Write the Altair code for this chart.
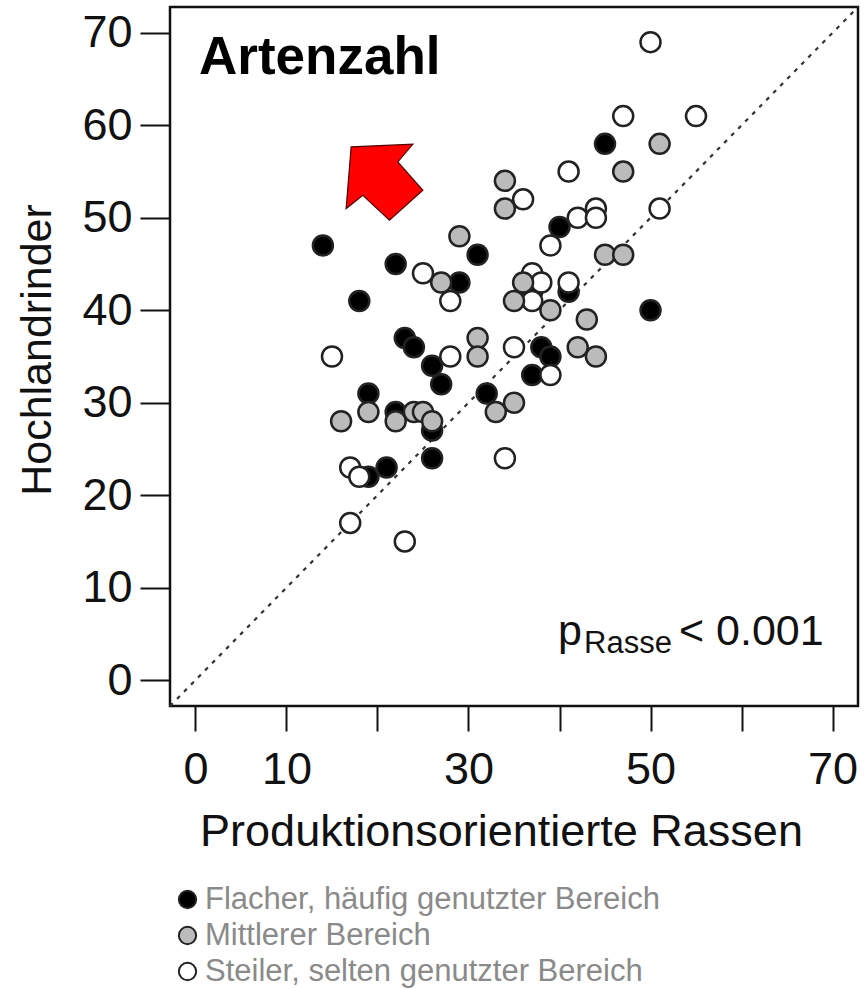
import altair as alt
import pandas as pd

FONT = "Liberation Sans"

# Species counts per plot: production breeds (x) vs. Highland cattle (y)
flach_x = [14, 18, 22, 19, 19, 21, 22, 23, 24, 26, 27, 26, 26, 29, 31, 32, 37, 37, 38, 39, 40, 41, 45, 50]
flach_y = [47, 41, 45, 31, 22, 23, 29, 37, 36, 34, 32, 27, 24, 43, 46, 31, 33, 42, 36, 35, 49, 42, 58, 40]

mittel_x = [16, 19, 22, 24, 25, 26, 27, 29, 31, 31, 33, 35, 34, 34, 35, 36, 39, 43, 42, 44, 45, 47, 47, 51]
mittel_y = [28, 29, 28, 29, 29, 28, 43, 48, 37, 35, 29, 30, 54, 51, 41, 43, 40, 39, 36, 35, 46, 46, 55, 58]

steil_x = [15, 17, 18, 17, 23, 25, 28, 28, 34, 35, 36, 37, 38, 37, 39, 39, 41, 41, 42, 44, 44, 47, 50, 51, 55]
steil_y = [35, 23, 22, 17, 15, 44, 41, 35, 24, 36, 52, 44, 43, 41, 47, 33, 43, 55, 50, 51, 50, 61, 69, 51, 61]

groups = ["Flacher, häufig genutzter Bereich", "Mittlerer Bereich", "Steiler, selten genutzter Bereich"]
fills = ["#000000", "#bbbbbb", "#ffffff"]

axis_ticks = [0, 10, 20, 30, 40, 50, 60, 70]
x_labelled = [0, 10, 30, 50, 70]
domain = [-2.8, 72.8]
diag = [-2.8, 72.8]

rows = []
for g, xs, ys in zip(groups, [flach_x, mittel_x, steil_x], [flach_y, mittel_y, steil_y]):
    for xv, yv in zip(xs, ys):
        rows.append({"Bereich": g, "Prod": xv, "Hoch": yv})
points = pd.DataFrame(rows)
draw_order = {groups[0]: 0, groups[2]: 1, groups[1]: 2}
points["z"] = points["Bereich"].map(draw_order)

xscale = alt.Scale(domain=domain, nice=False, zero=False)
yscale = alt.Scale(domain=domain, nice=False, zero=False)

x_axis = alt.Axis(
    values=axis_ticks,
    labelExpr=f"indexof({x_labelled}, datum.value) >= 0 ? datum.label : ''",
    labelOverlap=False,
    labelFontSize=45,
    labelPadding=16,
    tickSize=25,
    tickWidth=2,
    tickColor="#111",
    domain=False,
    grid=False,
    title="Produktionsorientierte Rassen",
    titleFontSize=45,
    titleFontWeight="normal",
    titleX=331,
    titleY=139,
    titleBaseline="alphabetic",
)
y_axis = alt.Axis(
    values=axis_ticks,
    labelFontSize=45,
    labelPadding=8,
    tickSize=30,
    tickWidth=2,
    tickColor="#111",
    domain=False,
    grid=False,
    title="Hochlandrinder",
    titleFontSize=43,
    titleFontWeight="normal",
    titleAngle=270,
    titleX=-120,
    titleY=342.5,
    titleBaseline="alphabetic",
    titleAlign="center",
)

# 1:1 reference line
diag_line = alt.Chart(pd.DataFrame({"v": diag})).mark_line(
    color="#333", strokeWidth=2.2, strokeDash=[4, 6]
).encode(
    x=alt.X("v:Q", scale=xscale, axis=x_axis),
    y=alt.Y("v:Q", scale=yscale, axis=y_axis),
)

dots = alt.Chart(points).mark_circle(
    size=400, stroke="#222", strokeWidth=2.5, opacity=1
).encode(
    x=alt.X("Prod:Q", scale=xscale),
    y=alt.Y("Hoch:Q", scale=yscale),
    fill=alt.Fill(
        "Bereich:N",
        scale=alt.Scale(domain=groups, range=fills),
        legend=alt.Legend(
            title=None,
            orient="none",
            legendX=2,
            legendY=877,
            direction="vertical",
            symbolType="circle",
            symbolSize=300,
            symbolStrokeColor="#222",
            symbolStrokeWidth=2,
            symbolOpacity=1,
            labelFontSize=31,
            labelColor="#8a8a8a",
            labelFont=FONT,
            labelOffset=2,
            labelLimit=0,
            rowPadding=4,
            padding=0,
        ),
    ),
    order=alt.Order("z:Q"),
)

# Red arrow pointing towards the Highland-cattle side
arrow_path = "M -0.875 -0.833 L 0.667 -0.9 L 0.292 -0.458 L 0.917 0.25 L 0.083 1 L -0.583 0.375 L -1 0.708 Z"
arrow = alt.Chart(pd.DataFrame({"Prod": [20.95], "Hoch": [54.06]})).mark_point(
    shape=arrow_path, size=6400, filled=True, fill="#ff0000",
    stroke="#4d0000", strokeWidth=1.2, opacity=1
).encode(
    x=alt.X("Prod:Q", scale=xscale),
    y=alt.Y("Hoch:Q", scale=yscale),
)

title = alt.Chart(pd.DataFrame({"t": ["Artenzahl"]})).mark_text(
    align="left", baseline="alphabetic", font=FONT, fontSize=53,
    fontWeight="bold", color="#000"
).encode(x=alt.value(29), y=alt.value(67), text="t:N")

p_main = alt.Chart(pd.DataFrame({"t": ["p"]})).mark_text(
    align="left", baseline="alphabetic", font=FONT, fontSize=43, color="#111"
).encode(x=alt.value(388), y=alt.value(638), text="t:N")

p_sub = alt.Chart(pd.DataFrame({"t": ["Rasse"]})).mark_text(
    align="left", baseline="alphabetic", font=FONT, fontSize=31, color="#111"
).encode(x=alt.value(414), y=alt.value(646), text="t:N")

p_val = alt.Chart(pd.DataFrame({"t": ["< 0.001"]})).mark_text(
    align="left", baseline="alphabetic", font=FONT, fontSize=43, color="#111"
).encode(x=alt.value(509), y=alt.value(638), text="t:N")

chart = alt.layer(diag_line, dots, arrow, title, p_main, p_sub, p_val).properties(
    width=688,
    height=699,
    padding={"left": 170, "top": 7, "right": 6, "bottom": 283},
    autosize=alt.AutoSizeParams(type="none"),
    background="#ffffff",
).configure(
    font=FONT,
).configure_view(
    stroke="#111", strokeWidth=2.5, fill="#ffffff"
).configure_axis(
    labelFont=FONT, titleFont=FONT, labelColor="#111", titleColor="#111"
)

chart.save("out.html", embed_options={"renderer": "svg", "actions": False})
